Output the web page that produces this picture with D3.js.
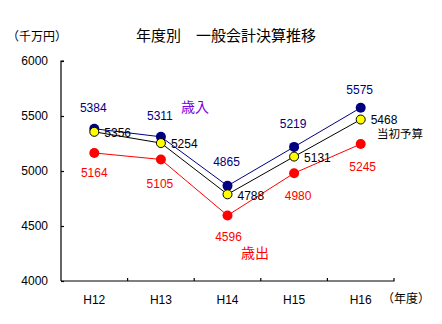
<!DOCTYPE html>
<html>
<head>
<meta charset="utf-8">
<script src="https://cdn.jsdelivr.net/npm/d3@7"></script>
<style>
  html, body { margin: 0; padding: 0; background: #fff; }
  svg { display: block; }
  text { font-family: "Liberation Sans", Arial, sans-serif; }
  .jp { font-family: "Noto Sans CJK JP", sans-serif; }
</style>
</head>
<body>
<svg id="chart" width="442" height="324"></svg>
<script>
// 年度別 一般会計決算推移（単位：千万円）
const years = ["H12", "H13", "H14", "H15", "H16"];
const revenue = [5384, 5311, 4865, 5219, 5575];   // 歳入
const budget = [5356, 5254, 4788, 5131, 5468];    // 当初予算
const expenditure = [5164, 5105, 4596, 4980, 5245]; // 歳出
const yTicks = [4000, 4500, 5000, 5500, 6000];

const svg = d3.select("#chart");
const plotLeft = 61, plotRight = 394, plotTop = 61, plotBottom = 281;

const x = d3.scaleBand().domain(years).range([plotLeft, plotRight]);
const y = d3.scaleLinear().domain([4000, 6000]).range([plotBottom, plotTop]);
const cx = d => x(d) + x.bandwidth() / 2;

// 軸
const yAxis = svg.append("g").attr("transform", `translate(${plotLeft},0)`)
  .call(d3.axisRight(y).tickValues(yTicks).tickSize(3).tickFormat(""));
yAxis.select(".domain").attr("d", `M3,${plotTop}H0V${plotBottom}`);
yAxis.selectAll("line, path").attr("stroke", "#000").attr("stroke-width", 1.2);

const xAxis = svg.append("g").attr("transform", `translate(0,${plotBottom})`)
  .call(d3.axisTop(x).tickSize(0).tickFormat(""));
xAxis.select(".domain").attr("d", `M${plotLeft},0H${plotRight}V-3`);
xAxis.selectAll("path").attr("stroke", "#000").attr("stroke-width", 1.2);
// 区切り目盛（カテゴリ境界）
svg.append("g").selectAll("line")
  .data(years.slice(1))
  .join("line")
  .attr("x1", d => x(d)).attr("x2", d => x(d))
  .attr("y1", plotBottom).attr("y2", plotBottom - 3)
  .attr("stroke", "#000").attr("stroke-width", 1.2);

// 目盛ラベル
svg.append("g").selectAll("text")
  .data(yTicks).join("text")
  .attr("x", 48).attr("y", d => y(d)).attr("dy", "0.35em")
  .attr("text-anchor", "end").attr("font-size", 12).text(d => d);

svg.append("g").selectAll("text")
  .data(years).join("text")
  .attr("x", d => cx(d)).attr("y", 300).attr("dy", "0.35em")
  .attr("text-anchor", "middle").attr("font-size", 12).text(d => d);

// タイトルと単位
svg.append("text").attr("class", "jp").attr("x", 226).attr("y", 36).attr("dy", "0.35em")
  .attr("text-anchor", "middle").attr("font-size", 15).text("年度別　一般会計決算推移");
svg.append("text").attr("class", "jp").attr("x", 7).attr("y", 37).attr("dy", "0.35em")
  .attr("font-size", 12).text("（千万円）");
svg.append("text").attr("class", "jp").attr("x", 382).attr("y", 299).attr("dy", "0.35em")
  .attr("font-size", 12).text("（年度）");

// 系列
const series = [
  { name: "歳入", values: revenue, line: "#000080", fill: "#000080", stroke: "none" },
  { name: "当初予算", values: budget, line: "#000000", fill: "#ffff00", stroke: "#000000" },
  { name: "歳出", values: expenditure, line: "#ff0000", fill: "#ff0000", stroke: "none" }
];

const line = d3.line().x((d, i) => cx(years[i])).y(d => y(d));

series.forEach(s => {
  svg.append("path").datum(s.values)
    .attr("d", line).attr("fill", "none")
    .attr("stroke", s.line).attr("stroke-width", 1);
});

// マーカー（歳入・歳出を先に、当初予算を最前面）
[series[2], series[0], series[1]].forEach(s => {
  svg.append("g").selectAll("circle")
    .data(s.values).join("circle")
    .attr("cx", (d, i) => cx(years[i]))
    .attr("cy", d => y(d))
    .attr("r", s.stroke === "none" ? 5 : 4.5)
    .attr("fill", s.fill)
    .attr("stroke", s.stroke).attr("stroke-width", 1);
});

// 値ラベル
svg.append("g").selectAll("text")
  .data(revenue).join("text")
  .attr("x", (d, i) => cx(years[i]) - 1)
  .attr("y", (d, i) => y(d) - [21, 21, 24, 23, 18][i]).attr("dy", "0.35em")
  .attr("text-anchor", "middle").attr("font-size", 12).attr("fill", "#000080")
  .text(d => d);

svg.append("g").selectAll("text")
  .data(budget).join("text")
  .attr("x", (d, i) => cx(years[i]) + 10)
  .attr("y", (d, i) => y(d) + [1, 1, 1, 1, 0][i]).attr("dy", "0.35em")
  .attr("font-size", 12).attr("fill", "#000")
  .text(d => d);

svg.append("g").selectAll("text")
  .data(expenditure).join("text")
  .attr("x", (d, i) => cx(years[i]) + [0, -1, 1, 4, 2][i])
  .attr("y", (d, i) => y(d) + [20, 24, 21, 23, 23][i]).attr("dy", "0.35em")
  .attr("text-anchor", "middle").attr("font-size", 12).attr("fill", "#ff0000")
  .text(d => d);

// 系列名
svg.append("text").attr("class", "jp").attr("x", 195).attr("y", 107).attr("dy", "0.35em")
  .attr("text-anchor", "middle").attr("font-size", 14).attr("fill", "#7a00e6").text("歳入");
svg.append("text").attr("class", "jp").attr("x", 255).attr("y", 253).attr("dy", "0.35em")
  .attr("text-anchor", "middle").attr("font-size", 14).attr("fill", "#ff0000").text("歳出");
svg.append("text").attr("class", "jp").attr("x", 377).attr("y", 134).attr("dy", "0.35em")
  .attr("font-size", 11.5).attr("fill", "#000").text("当初予算");
</script>
</body>
</html>
